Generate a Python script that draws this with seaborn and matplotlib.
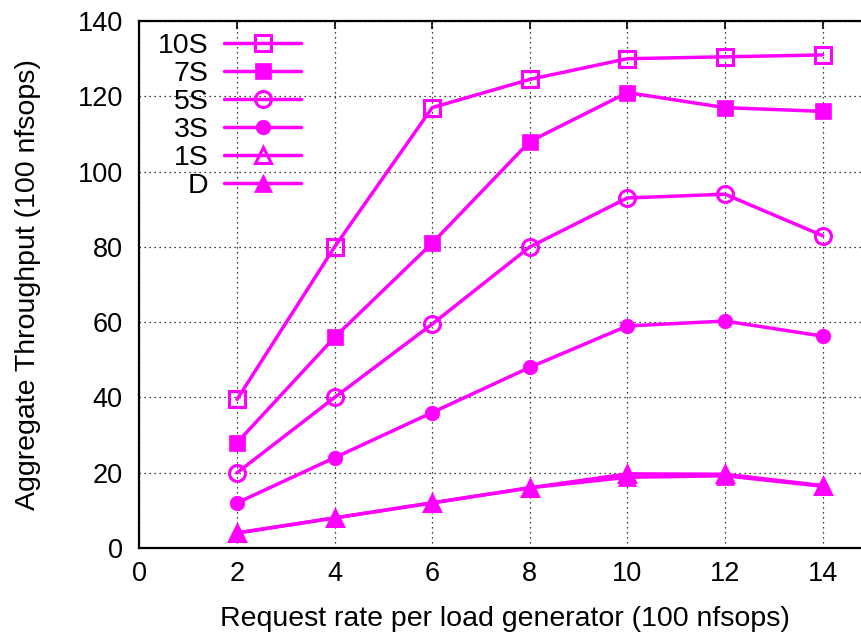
import matplotlib
matplotlib.use("Agg")
import matplotlib.pyplot as plt
import seaborn as sns
import pandas as pd

x = [2, 4, 6, 8, 10, 12, 14]
s10 = [39.5, 80, 117, 124.5, 130, 130.5, 131]
s7 = [28, 56, 81, 108, 121, 117, 116]
s5 = [20, 40, 59.5, 80, 93, 94, 83]
s3 = [12, 24, 36, 48, 59, 60.3, 56.3]
s1 = [4, 8, 12, 16, 19.7, 19.6, 16.6]
sD = [4, 8, 12, 16, 18.8, 19.2, 16.4]
labels = ["10S", "7S", "5S", "3S", "1S", "D"]
series = [s10, s7, s5, s3, s1, sD]
markers = ["s", "s", "o", "o", "^", "^"]
filled = [False, True, False, True, False, True]
msizes = [11.5, 12, 11.5, 10.5, 11.5, 12.5]

sns.set_theme(style="white")
plt.rcParams["font.family"] = ["Liberation Sans", "DejaVu Sans"]
plt.rcParams["text.color"] = "black"

fig = plt.figure(figsize=(8.62, 6.34), dpi=100)
ax = fig.add_axes([0.1618, 0.1356, 0.849, 0.8312])
color = "#ff00ff"
for lab, ys, m, f, ms in zip(labels, series, markers, filled, msizes):
    df = pd.DataFrame({"x": x, "y": ys})
    sns.lineplot(data=df, x="x", y="y", ax=ax, color=color, lw=2.5,
                 marker=m, markersize=ms,
                 markerfacecolor=color if f else "none",
                 markeredgecolor=color, markeredgewidth=2.2 if not f else 0.5,
                 label=lab)

ax.set_xlim(0, 15)
ax.set_ylim(0, 140)
ax.set_xticks(range(0, 15, 2))
ax.set_yticks(range(0, 141, 20))
ax.grid(True, linestyle=(0, (1, 3)), color="black", linewidth=0.9)
ax.tick_params(direction="in", length=6, width=1.2, labelsize=19.5, top=True, right=True,
               color="black", labelcolor="black")
ax.tick_params(axis="x", pad=9)
ax.tick_params(axis="y", pad=12)
for sp in ax.spines.values():
    sp.set_color("black")
    sp.set_linewidth(1.6)
ax.set_xlabel("Request rate per load generator (100 nfsops)", fontsize=20.5, color="black", labelpad=14)
ax.set_ylabel("Aggregate Throughput (100 nfsops)", fontsize=20.5, color="black", labelpad=26)
leg = ax.legend(loc="upper left", markerfirst=False, frameon=False, fontsize=20.5,
                handlelength=2.7, handletextpad=0.56, labelspacing=0.075,
                borderaxespad=0, borderpad=0,
                bbox_to_anchor=(0.025, 0.978))
for t in leg.get_texts():
    t.set_color("black")
fig.savefig("out.png", dpi=100)
